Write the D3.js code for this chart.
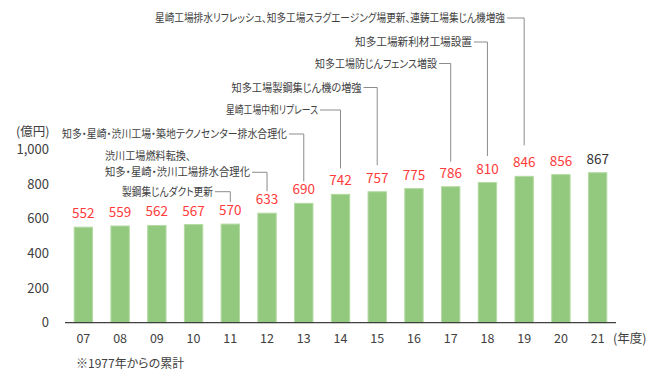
<!DOCTYPE html>
<html>
<head>
<meta charset="utf-8">
<script src="https://cdn.jsdelivr.net/npm/d3@7"></script>
<style>
  html, body { margin: 0; padding: 0; background: #fff; }
  svg { display: block; font-family: "Noto Sans CJK JP", "Noto Sans", sans-serif; font-feature-settings: "palt"; }
</style>
</head>
<body>
<svg id="chart" width="668" height="379"></svg>
<script>
// ---- data ----
const years = ["07","08","09","10","11","12","13","14","15","16","17","18","19","20","21"];
const values = [552,559,562,567,570,633,690,742,757,775,786,810,846,856,867];
const yTicks = [0,200,400,600,800,1000];
const unitLabel = "(億円)";
const xUnitLabel = "(年度)";
const footnote = "※1977年からの累計";
const annotationYears = ["11","12","13","14","15","17","18","19"];
const annotationTexts = [
  ["製鋼集じんダクト更新"],
  ["渋川工場燃料転換、","知多・星崎・渋川工場排水合理化"],
  ["知多・星崎・渋川工場・築地テクノセンター排水合理化"],
  ["星崎工場中和リプレース"],
  ["知多工場製鋼集じん機の増強"],
  ["知多工場防じんフェンス増設"],
  ["知多工場新利材工場設置"],
  ["星崎工場排水リフレッシュ、知多工場スラグエージング場更新、連鋳工場集じん機増強"]
];

// ---- layout (positions / sizes only) ----
const annLayout = [
  {x:122, y:[195.5], w:[91], lineY:191.7, gap:8},
  {x:105, y:[159.5,176], w:[86,145], lineY:172.3, gap:8},
  {x:62, y:[138], w:[225], lineY:134, gap:8},
  {x:226, y:[114], w:[92], lineY:110, gap:12},
  {x:231.5, y:[91.5], w:[130], lineY:87.5, gap:12.5},
  {x:315, y:[67.5], w:[122], lineY:63.5, gap:11},
  {x:355, y:[46], w:[117], lineY:42, gap:12.5},
  {x:155, y:[22], w:[350], lineY:18, gap:17}
];

const svg = d3.select("#chart");
const x = d3.scaleBand().domain(years).range([65, 616]).paddingInner(0.5).paddingOuter(0.25);
const y = d3.scaleLinear().domain([0, 1000]).range([322.7, 149.7]);
const textColor = "#404040";

// y tick labels
svg.append("g").selectAll("text").data(yTicks).join("text")
  .attr("x", 49).attr("y", d => y(d)).attr("dy", "0.35em")
  .attr("text-anchor", "end").attr("font-size", 13).attr("fill", textColor)
  .text(d => d3.format(",")(d));

svg.append("text").attr("x", 16).attr("y", 132).attr("dy", "0.35em")
  .attr("font-size", 12.5).attr("fill", textColor).text(unitLabel);

// bars
svg.append("g").selectAll("rect").data(values).join("rect")
  .attr("x", (d,i) => x(years[i]))
  .attr("y", d => y(d))
  .attr("width", x.bandwidth())
  .attr("height", d => y(0) - y(d))
  .attr("fill", "#93c87f")
  .attr("stroke", "#b3dba2").attr("stroke-width", 1);

// axis line
svg.append("line").attr("x1", 65).attr("x2", 616).attr("y1", y(0)).attr("y2", y(0))
  .attr("stroke", "#404040").attr("stroke-width", 1.2);

// x labels
svg.append("g").selectAll("text").data(years).join("text")
  .attr("x", d => x(d) + x.bandwidth()/2).attr("y", 339).attr("dy", "0.35em")
  .attr("text-anchor", "middle").attr("font-size", 12.5).attr("fill", textColor)
  .text(d => d);
svg.append("text").attr("x", 613).attr("y", 339).attr("dy", "0.35em")
  .attr("font-size", 12.5).attr("fill", textColor).text(xUnitLabel);

svg.append("text").attr("x", 76).attr("y", 364).attr("dy", "0.35em")
  .attr("font-size", 12).attr("fill", textColor).text(footnote);

// value labels
const labelBase = v => y(v) - 9;
svg.append("g").selectAll("text").data(values).join("text")
  .attr("x", (d,i) => x(years[i]) + x.bandwidth()/2)
  .attr("y", d => labelBase(d))
  .attr("text-anchor", "middle").attr("font-size", 13.5)
  .attr("fill", (d,i) => i === values.length - 1 ? "#333333" : "#ff3b3b")
  .text(d => d);

// annotations
annotationYears.forEach((yr, k) => {
  const L = annLayout[k];
  const lines = annotationTexts[k];
  lines.forEach((t, j) => {
    svg.append("text").attr("x", L.x).attr("y", L.y[j])
      .attr("font-size", 11).attr("fill", textColor)
      .attr("textLength", L.w[j]).attr("lengthAdjust", "spacingAndGlyphs")
      .text(t);
  });
  const last = lines.length - 1;
  const xStart = L.x + L.w[last] + 2;
  const cx = x(yr) + x.bandwidth()/2;
  const v = values[years.indexOf(yr)];
  const yEnd = labelBase(v) - 5 - L.gap;
  svg.append("path")
    .attr("d", d3.line()([[xStart, L.lineY], [cx, L.lineY], [cx, yEnd]]))
    .attr("fill", "none").attr("stroke", "#8c8c8c").attr("stroke-width", 1);
});
</script>
</body>
</html>
